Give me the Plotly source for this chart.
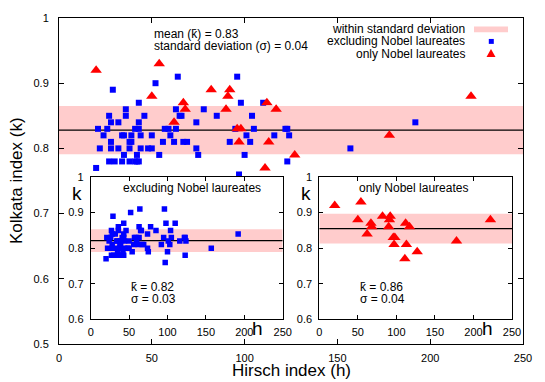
import plotly.graph_objects as go

# ---------------- data ----------------
# scientists excluding Nobel laureates: Hirsch index h, Kolkata index k
blue_h = [29, 52, 64, 96, 43, 98, 110, 36, 63, 78, 27, 36, 46, 65, 66, 85, 104, 28, 32, 43, 74,
          21, 26, 41, 43, 57, 59, 63, 95, 105, 122, 123,
          24, 34, 35, 39, 44, 50, 60, 101, 116, 124,
          28, 38, 39, 56, 62, 67, 69, 92, 103,
          22, 28, 32, 38, 44, 48, 50, 74, 157,
          35, 42, 54, 75, 100,
          27, 30, 34, 38, 41, 42, 43, 123,
          20, 97, 192]
blue_k = [0.89, 0.90, 0.91, 0.91, 0.87, 0.87, 0.87, 0.86, 0.86, 0.86, 0.85, 0.85, 0.85, 0.85, 0.85, 0.85, 0.85, 0.84, 0.84, 0.84, 0.84,
          0.83, 0.83, 0.83, 0.83, 0.83, 0.83, 0.83, 0.83, 0.83, 0.83, 0.83,
          0.82, 0.82, 0.82, 0.82, 0.82, 0.82, 0.82, 0.82, 0.82, 0.82,
          0.81, 0.81, 0.81, 0.81, 0.81, 0.81, 0.81, 0.81, 0.81,
          0.80, 0.80, 0.80, 0.80, 0.80, 0.80, 0.80, 0.80, 0.80,
          0.79, 0.79, 0.79, 0.79, 0.79,
          0.78, 0.78, 0.78, 0.78, 0.78, 0.78, 0.78, 0.78,
          0.77, 0.76, 0.84]

# Nobel laureates only
red_h = [20, 54, 50, 82, 92, 91, 67, 68, 62, 90, 112, 117, 96, 98, 97, 113, 127, 111, 178, 222]
red_k = [0.92, 0.93, 0.88, 0.89, 0.89, 0.88, 0.87, 0.86, 0.84, 0.86, 0.87, 0.86, 0.83, 0.83, 0.81, 0.81, 0.79, 0.77, 0.82, 0.88]

# mean / standard deviation bands (as drawn)
all_mean, all_sigma = 0.828, 0.037
blue_mean, blue_sigma = 0.821, 0.032
red_mean, red_sigma = 0.855, 0.042

x_ticks = [0, 50, 100, 150, 200, 250]
main_y_ticks = [0.5, 0.6, 0.7, 0.8, 0.9, 1.0]
main_y_text = ["0.5", "0.6", "0.7", "0.8", "0.9", "1"]
inset_y_ticks = [0.6, 0.7, 0.8, 0.9, 1.0]
inset_y_text = ["0.6", "0.7", "0.8", "0.9", "1"]

# ---------------- layout geometry ----------------
W, H = 545, 382
L, R, T, B = 59, 22, 14, 38
PW, PH = W - L - R, H - T - B


def xp(px):
    return (px - L) / PW


def yp(py):
    return (H - B - py) / PH


FONT = "Liberation Sans, Arial, Helvetica, sans-serif"
PINK = "rgb(255,204,204)"
BLUE = "rgb(0,0,255)"
RED = "rgb(255,0,0)"

fig = go.Figure()

# main plot traces
fig.add_trace(go.Scatter(x=blue_h, y=blue_k, mode="markers", xaxis="x", yaxis="y",
                         marker=dict(symbol="square", size=6, color=BLUE, line=dict(width=0)),
                         showlegend=False))
fig.add_trace(go.Scatter(x=red_h, y=red_k, mode="markers", xaxis="x", yaxis="y",
                         marker=dict(symbol="triangle-up", size=10, color=RED, line=dict(width=0)),
                         showlegend=False))
# inset 1 (excluding Nobel)
fig.add_trace(go.Scatter(x=blue_h, y=blue_k, mode="markers", xaxis="x2", yaxis="y2",
                         marker=dict(symbol="square", size=5.5, color=BLUE, line=dict(width=0)),
                         showlegend=False))
# inset 2 (only Nobel)
fig.add_trace(go.Scatter(x=red_h, y=red_k, mode="markers", xaxis="x3", yaxis="y3",
                         marker=dict(symbol="triangle-up", size=10, color=RED, line=dict(width=0)),
                         showlegend=False))

shapes = []
for xr, yr, m, s in [("x", "y", all_mean, all_sigma), ("x2", "y2", blue_mean, blue_sigma),
                     ("x3", "y3", red_mean, red_sigma)]:
    shapes.append(dict(type="rect", xref=xr, yref=yr, x0=0, x1=250, y0=m - s, y1=m + s,
                       fillcolor=PINK, line=dict(width=0), layer="below"))
    shapes.append(dict(type="line", xref=xr, yref=yr, x0=0, x1=250, y0=m, y1=m,
                       line=dict(color="black", width=1.2), layer="below"))

# legend keys (gnuplot style: key sample on the right of the text)
shapes.append(dict(type="rect", xref="paper", yref="paper", x0=xp(474), x1=xp(508),
                   y0=yp(28.3), y1=yp(22.7), fillcolor=PINK, line=dict(width=0), layer="above"))
shapes.append(dict(type="rect", xref="paper", yref="paper", x0=xp(488.8), x1=xp(493.8),
                   y0=yp(40.2), y1=yp(35.2), fillcolor=BLUE, line=dict(width=0), layer="above"))
shapes.append(dict(type="path", xref="paper", yref="paper",
                   path="M %f,%f L %f,%f L %f,%f Z" % (xp(486.5), yp(53.5), xp(495.5), yp(53.5),
                                                      xp(491), yp(45.5)),
                   fillcolor=RED, line=dict(width=0), layer="above"))


def ann(text, px, py, size=12, xanchor="left", yanchor="middle", angle=0):
    return dict(text=text, x=xp(px), y=yp(py), xref="paper", yref="paper", showarrow=False,
                xanchor=xanchor, yanchor=yanchor, textangle=angle,
                font=dict(family=FONT, size=size, color="black"))


annotations = [
    ann("mean (k\u0304) = 0.83", 152.3, 30.5),
    ann("standard deviation (\u03c3) = 0.04", 152.3, 42),
    ann("within standard deviation", 467, 25.3, xanchor="right"),
    ann("excluding Nobel laureates", 467, 37.7, xanchor="right"),
    ann("only Nobel laureates", 467, 50, xanchor="right"),
    ann("excluding Nobel laureates", 191.5, 186, xanchor="center"),
    ann("only Nobel laureates", 413, 186, xanchor="center"),
    ann("k\u0304 = 0.82", 129.3, 286),
    ann("\u03c3 = 0.03", 129.3, 298),
    ann("k\u0304 = 0.86", 358.3, 286),
    ann("\u03c3 = 0.04", 358.3, 298),
    ann("k", 77, 192, size=19, xanchor="center"),
    ann("k", 305.7, 192, size=19, xanchor="center"),
    ann("h", 257.5, 328, size=19, xanchor="center"),
    ann("h", 487.3, 328, size=19, xanchor="center"),
    ann("Hirsch index (h)", 291, 371, size=17, xanchor="center"),
    ann("Kolkata index (k)", 16, 179, size=17, xanchor="center", angle=-90),
]


def axis_common(rng, tickvals, ticktext, domain, anchor, ticklen, standoff, overlay_font=11):
    return dict(range=rng, domain=domain, anchor=anchor, tickmode="array", tickvals=tickvals,
                ticktext=ticktext, ticks="inside", ticklen=ticklen, tickwidth=1, tickcolor="black",
                showline=True, linecolor="black", linewidth=1, mirror="ticks", showgrid=False,
                zeroline=False, fixedrange=True, ticklabelstandoff=standoff,
                tickfont=dict(family=FONT, size=overlay_font, color="black"))


in_y_dom = [yp(319), yp(175)]
in1_x_dom = [xp(90.7), xp(282.7)]
in2_x_dom = [xp(319.3), xp(512)]

fig.update_layout(
    width=W, height=H, margin=dict(l=L, r=R, t=T, b=B, pad=0),
    paper_bgcolor="white", plot_bgcolor="white", showlegend=False,
    font=dict(family=FONT, size=11, color="black"),
    xaxis=axis_common([0, 250], x_ticks, [str(v) for v in x_ticks], [0, 1], "y", 5, 4),
    yaxis=axis_common([0.5, 1.0], main_y_ticks, main_y_text, [0, 1], "x", 5, 7),
    xaxis2=axis_common([0, 250], x_ticks, [str(v) for v in x_ticks], in1_x_dom, "y2", 4, 2),
    yaxis2=axis_common([0.6, 1.0], inset_y_ticks, inset_y_text, in_y_dom, "x2", 4, 4),
    xaxis3=axis_common([0, 250], x_ticks, [str(v) for v in x_ticks], in2_x_dom, "y3", 4, 2),
    yaxis3=axis_common([0.6, 1.0], inset_y_ticks, inset_y_text, in_y_dom, "x3", 4, 4),
    shapes=shapes, annotations=annotations,
)

fig.write_html("out.html", config={"displayModeBar": False},
               post_script="document.body.style.margin='0';document.body.style.overflow='hidden';")
